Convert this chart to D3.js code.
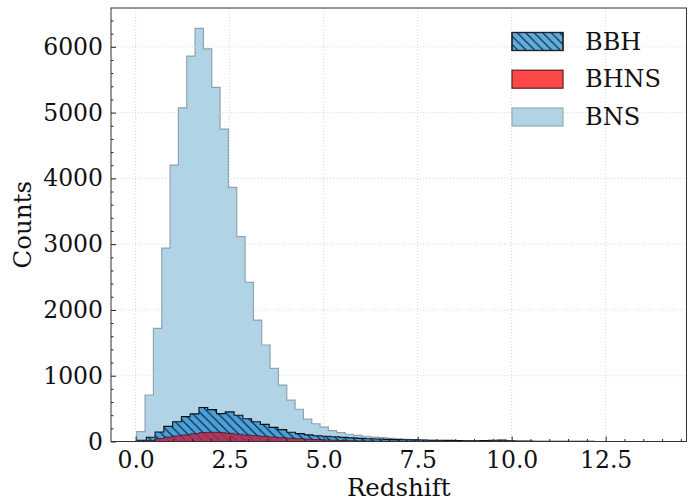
<!DOCTYPE html>
<html><head><meta charset="utf-8">
<script src="https://cdn.jsdelivr.net/npm/d3@7"></script>
<style>
html,body{margin:0;padding:0;background:#fff;}
svg{display:block;}
text{font-family:"DejaVu Serif",serif;fill:#111;}
</style></head>
<body>
<svg id="chart" width="693" height="502"></svg>
<script>
// ---- data ----
const seriesNames = ["BBH", "BHNS", "BNS"];
const bnsBinStart = 0.03, bnsBinWidth = 0.2216;
const bnsCounts = [149, 707, 1720, 2940, 4202, 5073, 5859, 6280, 5970, 5383, 4749, 3863, 3113, 2419, 1846, 1467, 1112, 858, 630, 490, 340, 270, 220, 165, 135, 110, 92, 80, 68, 58, 49, 41, 34, 28, 22, 17, 13, 10, 8, 6, 5, 4, 3, 2, 2, 1, 1, 1];
const bbhBinStart = 0.05, bbhBinWidth = 0.2335;
const bbhCounts = [18, 65, 145, 230, 300, 378, 420, 517, 485, 423, 450, 400, 345, 300, 260, 215, 180, 140, 120, 100, 88, 80, 72, 63, 55, 48, 42, 37, 33, 29, 26, 24, 22, 20, 19, 17, 14, 12, 11, 13, 20, 21, 10, 7, 5, 4, 4, 3, 3, 2, 2, 2, 1, 1, 1, 1, 1, 1, 1, 1];
const bhnsCounts = [2, 15, 45, 68, 85, 100, 118, 135, 140, 138, 125, 110, 98, 88, 78, 68, 58, 50, 43, 36, 30, 24, 19, 15, 12, 9, 7, 5, 4, 3, 2, 2, 1, 1, 1];
const xTicks = [0, 2.5, 5, 7.5, 10, 12.5];
const yTicks = [0, 1000, 2000, 3000, 4000, 5000, 6000];
const xLabel = "Redshift", yLabel = "Counts";

// ---- layout ----
const W = 693, H = 502;
const L = 111, R = 686.5, T = 8, B = 441.5;
const svg = d3.select("#chart");
const x = d3.scaleLinear().domain([-0.655, 14.65]).range([L, R]);
const y = d3.scaleLinear().domain([0, 6590]).range([B, T]);

function bins(start, width, counts) {
  const pts = counts.map((c, i) => ({x0: start + i * width, c}));
  pts.push({x0: start + counts.length * width, c: counts[counts.length - 1]});
  return pts;
}
const area = d3.area().x(d => x(d.x0)).y0(y(0)).y1(d => y(d.c)).curve(d3.curveStepAfter);

// hatch pattern
const defs = svg.append("defs");
const hs = 8.5;
const pat = defs.append("pattern").attr("id", "hatch").attr("patternUnits", "userSpaceOnUse")
  .attr("width", hs).attr("height", hs);
pat.append("path").attr("d", `M0,0L${hs},${hs}M${-hs/2},${hs/2}L${hs/2},${hs*1.5}M${hs/2},${-hs/2}L${hs*1.5},${hs/2}`)
  .attr("stroke", "#111").attr("stroke-width", 1.1);
defs.append("clipPath").attr("id", "plotclip").append("rect")
  .attr("x", L).attr("y", T).attr("width", R - L).attr("height", B - T);

const plot = svg.append("g").attr("clip-path", "url(#plotclip)");

// BNS
plot.append("path").datum(bins(bnsBinStart, bnsBinWidth, bnsCounts)).attr("d", area)
  .attr("fill", "#b0d4e6").attr("stroke", "#8fa2af").attr("stroke-width", 1.2);

// grid
const grid = plot.append("g").attr("stroke", "#cfcfcf").attr("stroke-width", 0.8).attr("stroke-dasharray", "1,2");
xTicks.forEach(t => grid.append("line").attr("x1", x(t)).attr("x2", x(t)).attr("y1", T).attr("y2", B));
yTicks.forEach(t => grid.append("line").attr("x1", L).attr("x2", R).attr("y1", y(t)).attr("y2", y(t)));

// BBH
const bbhData = bins(bbhBinStart, bbhBinWidth, bbhCounts);
plot.append("path").datum(bbhData).attr("d", area).attr("fill", "#3498db").attr("fill-opacity", 0.85);
plot.append("path").datum(bbhData).attr("d", area).attr("fill", "url(#hatch)")
  .attr("stroke", "#111").attr("stroke-width", 1.1);

// BHNS
plot.append("path").datum(bins(bbhBinStart, bbhBinWidth, bhnsCounts)).attr("d", area)
  .attr("fill", "rgb(190,35,70)").attr("fill-opacity", 0.82)
  .attr("stroke", "#3a0c18").attr("stroke-opacity", 0.7).attr("stroke-width", 1);

// axes
const xAxis = d3.axisBottom(x).tickValues(xTicks).tickFormat(d3.format(".1f")).tickSizeInner(-5).tickSizeOuter(0).tickPadding(10);
const xMinor = d3.axisBottom(x).tickValues(d3.range(0, 14.6, 0.5).filter(v => Math.abs(v / 2.5 - Math.round(v / 2.5)) > 1e-6)).tickFormat("").tickSizeInner(-2.5).tickSizeOuter(0);
const yAxis = d3.axisLeft(y).tickValues(yTicks).tickFormat(d3.format("d")).tickSizeInner(-5).tickSizeOuter(0).tickPadding(8);
const yMinor = d3.axisLeft(y).tickValues(d3.range(0, 6590, 200).filter(v => v % 1000 !== 0)).tickFormat("").tickSizeInner(-2.5).tickSizeOuter(0);

function styleAxis(g) {
  g.select(".domain").remove();
  g.selectAll("line").attr("stroke", "#222").attr("stroke-width", 1);
  g.selectAll("text").style("font-family", '"DejaVu Serif", serif').style("font-size", "23.5px").attr("fill", "#111");
}
svg.append("g").attr("transform", `translate(0,${B})`).call(xAxis).call(styleAxis);
svg.append("g").attr("transform", `translate(0,${B})`).call(xMinor).call(styleAxis);
svg.append("g").attr("transform", `translate(${L},0)`).call(yAxis).call(styleAxis);
svg.append("g").attr("transform", `translate(${L},0)`).call(yMinor).call(styleAxis);

// frame
svg.append("rect").attr("x", L).attr("y", T).attr("width", R - L).attr("height", B - T)
  .attr("fill", "none").attr("stroke", "#333").attr("stroke-width", 1);

// axis labels
svg.append("text").attr("x", (L + R) / 2).attr("y", 496).attr("text-anchor", "middle")
  .style("font-size", "24.5px").text(xLabel);
svg.append("text").attr("transform", `translate(31,${(T + B) / 2}) rotate(-90)`).attr("text-anchor", "middle")
  .style("font-size", "24.5px").text(yLabel);

// legend
const leg = svg.append("g");
const legY = [41.5, 79.2, 117];
const legStyles = [
  {fill: "#3498db", op: 0.8, stroke: "#222", hatch: true},
  {fill: "#ff4848", op: 1, stroke: "#5a2020", hatch: false},
  {fill: "#b0d4e6", op: 1, stroke: "#98a8b4", hatch: false}
];
seriesNames.forEach((n, i) => {
  const s = legStyles[i];
  leg.append("rect").attr("x", 512).attr("y", legY[i] - 9).attr("width", 51).attr("height", 18)
    .attr("fill", s.fill).attr("fill-opacity", s.op).attr("stroke", s.stroke).attr("stroke-width", 1.2);
  if (s.hatch) leg.append("rect").attr("x", 512).attr("y", legY[i] - 9).attr("width", 51).attr("height", 18)
    .attr("fill", "url(#hatch)").attr("stroke", s.stroke).attr("stroke-width", 1.2);
  leg.append("text").attr("x", 585).attr("y", legY[i]).attr("dominant-baseline", "central")
    .style("font-size", "24px").text(n);
});
</script>
</body></html>
